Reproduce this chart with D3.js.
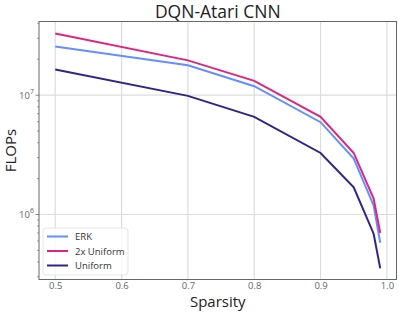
<!DOCTYPE html>
<html>
<head>
<meta charset="utf-8">
<script src="https://cdn.jsdelivr.net/npm/d3@7"></script>
<style>
  body { margin: 0; background: #fff; }
  svg { font-family: "Open Sans", sans-serif; }
</style>
</head>
<body>
<svg id="canvas" width="399" height="313"></svg>
<script>
const sparsity = [0.5, 0.7, 0.8, 0.9, 0.95, 0.98, 0.99];
const erk = [2.56e7, 1.78e7, 1.19e7, 5.94e6, 2.94e6, 1.19e6, 5.8e5];
const uniform2x = [3.29e7, 1.96e7, 1.32e7, 6.58e6, 3.28e6, 1.36e6, 7.0e5];
const uniform = [1.64e7, 9.87e6, 6.58e6, 3.28e6, 1.69e6, 6.9e5, 3.53e5];
const xTicks = [0.5, 0.6, 0.7, 0.8, 0.9, 1.0];
const yTicks = [1e6, 1e7];

const series = [
  { name: "ERK", values: erk, color: "#648fff" },
  { name: "2x Uniform", values: uniform2x, color: "#dc267f" },
  { name: "Uniform", values: uniform, color: "#332288" }
];

const CANVAS = d3.select("#canvas");
const PLOT_L = 39, PLOT_R = 396.5, PLOT_T = 21.5, PLOT_B = 279.5;

// matplotlib-like 5% margins
var x = d3.scaleLinear().domain([0.4755, 1.0145]).range([PLOT_L, PLOT_R]);
var y = d3.scaleLog().domain([10 ** 5.455, 10 ** 7.618]).range([PLOT_B, PLOT_T]);

// grid
CANVAS.append("g").selectAll("line").data(xTicks).join("line")
  .attr("x1", d => x(d)).attr("x2", d => x(d))
  .attr("y1", PLOT_T).attr("y2", PLOT_B)
  .style("stroke", "#dcdcdc").style("stroke-width", 1.2);
CANVAS.append("g").selectAll("line").data(yTicks).join("line")
  .attr("x1", PLOT_L).attr("x2", PLOT_R)
  .attr("y1", d => y(d)).attr("y2", d => y(d))
  .style("stroke", "#dcdcdc").style("stroke-width", 1.2);

// lines
var line = d3.line().x((d, i) => x(sparsity[i])).y(d => y(d));
series.forEach(s => {
  CANVAS.append("path")
    .attr("d", line(s.values))
    .style("fill", "none")
    .style("stroke", s.color)
    .style("stroke-width", 2);
});

// frame
CANVAS.append("rect")
  .attr("x", PLOT_L).attr("y", PLOT_T)
  .attr("width", PLOT_R - PLOT_L).attr("height", PLOT_B - PLOT_T)
  .style("fill", "none").style("stroke", "#666").style("stroke-width", 1);

// x axis
var xAxis = d3.axisBottom(x).tickValues(xTicks).tickFormat(d3.format(".1f")).tickSize(0).tickPadding(3);
var gx = CANVAS.append("g").attr("transform", `translate(0,${PLOT_B})`).call(xAxis);
gx.select(".domain").remove();
gx.selectAll("text").style("font-size", "9.5px").style("fill", "#666")
  .style("font-family", "Open Sans");

// y axis: major + minor ticks
var minor = [];
for (let e = 5; e <= 7; e++) {
  for (let m = 2; m <= 9; m++) {
    let v = m * 10 ** e;
    if (v > y.domain()[0] && v < y.domain()[1]) minor.push(v);
  }
}
CANVAS.append("g").selectAll("line").data(minor).join("line")
  .attr("x1", PLOT_L - 2).attr("x2", PLOT_L)
  .attr("y1", d => y(d)).attr("y2", d => y(d))
  .style("stroke", "#666").style("stroke-width", 0.6);
CANVAS.append("g").selectAll("line").data(yTicks).join("line")
  .attr("x1", PLOT_L - 3.5).attr("x2", PLOT_L)
  .attr("y1", d => y(d)).attr("y2", d => y(d))
  .style("stroke", "#666").style("stroke-width", 0.8);

var yLab = CANVAS.append("g").selectAll("text").data(yTicks).join("text")
  .attr("x", PLOT_L - 5).attr("y", d => y(d) + 4)
  .attr("text-anchor", "end")
  .style("font-size", "9.5px").style("fill", "#666");
yLab.append("tspan").text("10");
yLab.append("tspan").attr("dy", -5).style("font-size", "7px")
  .text(d => Math.round(Math.log10(d)));

// titles
CANVAS.append("text")
  .attr("x", (PLOT_L + PLOT_R) / 2).attr("y", 17.5)
  .attr("text-anchor", "middle")
  .style("font-size", "17.5px").style("fill", "#222")
  .text("DQN-Atari CNN");
CANVAS.append("text")
  .attr("x", (PLOT_L + PLOT_R) / 2).attr("y", 307)
  .attr("text-anchor", "middle")
  .style("font-size", "15px").style("fill", "#222")
  .text("Sparsity");
CANVAS.append("text")
  .attr("transform", `translate(16,${(PLOT_T + PLOT_B) / 2}) rotate(-90)`)
  .attr("text-anchor", "middle")
  .style("font-size", "15px").style("fill", "#222")
  .text("FLOPs");

// legend
var legend = CANVAS.append("g").attr("transform", "translate(43,228)");
legend.append("rect")
  .attr("width", 85).attr("height", 47).attr("rx", 3)
  .style("fill", "rgba(255,255,255,0.8)")
  .style("stroke", "#e0e0e0").style("stroke-width", 0.8);
series.forEach((s, i) => {
  var row = legend.append("g").attr("transform", `translate(0,${8.5 + i * 14.5})`);
  row.append("line")
    .attr("x1", 4).attr("x2", 25)
    .style("stroke", s.color).style("stroke-width", 2);
  row.append("text")
    .attr("x", 32).attr("y", 3.5)
    .style("font-size", "9.5px").style("fill", "#333")
    .text(s.name);
});
</script>
</body>
</html>
